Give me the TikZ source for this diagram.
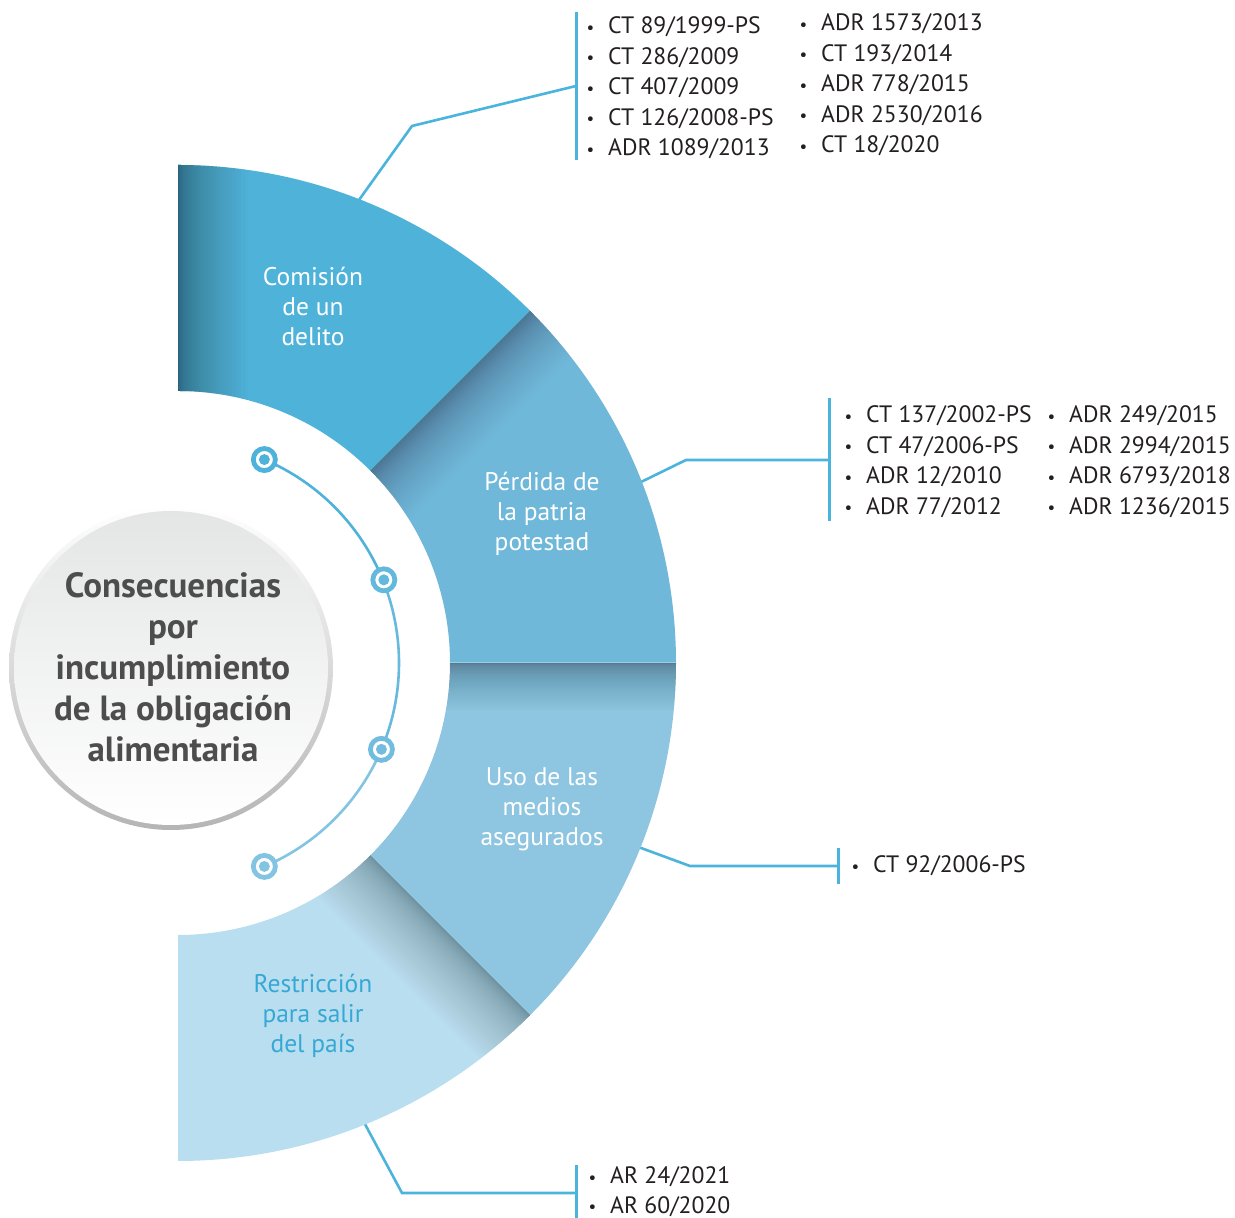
\documentclass[tikz,border=0pt]{standalone}
\usepackage{fontspec}
\setmainfont{PT Sans}
\definecolor{segA}{HTML}{4FB3D9}
\definecolor{segB}{HTML}{6FB8D9}
\definecolor{segC}{HTML}{8EC5E0}
\definecolor{segD}{HTML}{B8DEEF}
\definecolor{shadowc}{HTML}{1A2A32}
\definecolor{lineblue}{HTML}{4AB4DC}
\definecolor{txt}{HTML}{231F20}
\definecolor{titlegray}{HTML}{4D4D4D}
\definecolor{labD}{HTML}{37A8D5}
\definecolor{arcA}{HTML}{4EB2DA}
\definecolor{arcB}{HTML}{67B9DD}
\definecolor{arcC}{HTML}{82C4E2}
\definecolor{ringgray}{HTML}{B5B5B5}
\definecolor{fillgray}{HTML}{E4E5E5}
\newcommand\blt{\llap{{\fontsize{17}{17}\selectfont\raisebox{0.5pt}{•}}\hspace{14pt}}}
\begin{document}
\begin{tikzpicture}[x=1pt,y=1pt,
  conn/.style={draw=lineblue, line width=2.6pt, line join=miter},
  barline/.style={draw=lineblue, line width=3pt},
  item/.style={anchor=base west, inner sep=0pt, text=txt, font=\fontsize{23.7}{28}\selectfont},
  seglab/.style={align=center, text=white, inner sep=0pt, font=\fontsize{25.5}{30}\selectfont},
  marker/.style={circle, fill=white, line width=4.8pt, minimum size=22pt, inner sep=0pt}]
\useasboundingbox (0,0) rectangle (1235,1218);
\fill[white] (0,0) rectangle (1235,1218);

% ---------- connectors (behind segments) ----------
\begin{scope}[shift={(178,555)}]
  \coordinate (s1) at (68.8:492pt);
  \coordinate (s2) at (21.3:492pt);
  \coordinate (s3) at (-21.8:492pt);
  \coordinate (s4) at (-68:492pt);
\end{scope}
\coordinate (k1) at (412,1092); \coordinate (e1) at (576,1132);
\coordinate (k2) at (686,758);  \coordinate (e2) at (829,758);
\coordinate (k3) at (690,352);  \coordinate (e3) at (838,352);
\coordinate (k4) at (402,25);   \coordinate (e4) at (576,25);
\draw[conn] (s1) -- (k1) -- (e1);
\draw[conn] (s2) -- (k2) -- (e2);
\draw[conn] (s3) -- (k3) -- (e3);
\draw[conn] (s4) -- (k4) -- (e4);

\coordinate (b1t) at (576,1206); \coordinate (b1b) at (576,1058);
\coordinate (b2t) at (829,820);  \coordinate (b2b) at (829,697);
\coordinate (b3t) at (838,370);  \coordinate (b3b) at (838,334);
\coordinate (b4t) at (576,53);   \coordinate (b4b) at (576,-2);
\draw[barline] (b1t) -- (b1b);
\draw[barline] (b2t) -- (b2b);
\draw[barline] (b3t) -- (b3b);
\draw[barline] (b4t) -- (b4b);

% ---------- segments ----------
\begin{scope}[shift={(178,555)}]
  \fill[segA] (90:498pt) arc[start angle=90,end angle=45,radius=498pt] -- (45:272pt) arc[start angle=45,end angle=90,radius=272pt] -- cycle;
  \fill[segB] (45:498pt) arc[start angle=45,end angle=0,radius=498pt] -- (0:272pt) arc[start angle=0,end angle=45,radius=272pt] -- cycle;
  \fill[segC] (0:498pt) arc[start angle=0,end angle=-45,radius=498pt] -- (-45:272pt) arc[start angle=-45,end angle=0,radius=272pt] -- cycle;
  \fill[segD] (-45:498pt) arc[start angle=-45,end angle=-90,radius=498pt] -- (-90:272pt) arc[start angle=-90,end angle=-45,radius=272pt] -- cycle;
  % shadows (stacked translucent bands, denser near the edge)
  \begin{scope}
    \clip (90:498pt) arc[start angle=90,end angle=45,radius=498pt] -- (45:272pt) arc[start angle=45,end angle=90,radius=272pt] -- cycle;
    \foreach \k in {1,...,40} \fill[shadowc, opacity=0.015, rotate=90] (250,0) rectangle (520,{-70*(\k/40)^2});
  \end{scope}
  \begin{scope}
    \clip (45:498pt) arc[start angle=45,end angle=0,radius=498pt] -- (0:272pt) arc[start angle=0,end angle=45,radius=272pt] -- cycle;
    \foreach \k in {1,...,40} \fill[shadowc, opacity=0.013, rotate=45] (250,0) rectangle (520,{-62*(\k/40)^2});
  \end{scope}
  \begin{scope}
    \clip (0:498pt) arc[start angle=0,end angle=-45,radius=498pt] -- (-45:272pt) arc[start angle=-45,end angle=0,radius=272pt] -- cycle;
    \foreach \k in {1,...,40} \fill[shadowc, opacity=0.0125, rotate=0] (250,0) rectangle (520,{-48*(\k/40)^2});
  \end{scope}
  \begin{scope}
    \clip (-45:498pt) arc[start angle=-45,end angle=-90,radius=498pt] -- (-90:272pt) arc[start angle=-90,end angle=-45,radius=272pt] -- cycle;
    \foreach \k in {1,...,40} \fill[shadowc, opacity=0.0135, rotate=-45] (250,0) rectangle (520,{-66*(\k/40)^2});
  \end{scope}
  \draw[white, opacity=0.3, line width=1pt] (0:272pt) -- (0:498pt);

  % inner arc with markers
  \draw[arcA, line width=2.6pt] (67:221pt) arc[start angle=67,end angle=22,radius=221pt];
  \draw[arcB, line width=2.6pt] (22:221pt) arc[start angle=22,end angle=-23,radius=221pt];
  \draw[arcC, line width=2.6pt] (-23:221pt) arc[start angle=-23,end angle=-67,radius=221pt];
  \node[marker, draw=arcA] (m1) at (67:221pt) {};
  \node[marker, draw=arcB!85!arcA] (m2) at (22:222pt) {};
  \node[marker, draw=arcB!60!arcC] (m3) at (-23:221pt) {};
  \node[marker, draw=arcC] (m4) at (-67:221pt) {};
\end{scope}
\fill[arcA] (m1) circle[radius=5.5pt];
\fill[arcB!85!arcA] (m2) circle[radius=5.5pt];
\fill[arcB!60!arcC] (m3) circle[radius=5.5pt];
\fill[arcC] (m4) circle[radius=5.5pt];

% ---------- central circle ----------
\shade[shading angle=-45, top color=white, bottom color=ringgray] (171,550) circle[radius=162pt];
\shade[shading angle=-45, top color=fillgray, bottom color=white] (171,550) circle[radius=157pt];
\node[align=center, inner sep=0pt, text=titlegray, font=\bfseries\fontsize{35}{41}\selectfont] (title) at (173,551)
  {Consecuencias\\por\\incumplimiento\\de la obligación\\alimentaria};

% ---------- segment labels ----------
\node[seglab] (lab1) at (313,912) {Comisión\\de un\\delito};
\node[seglab] (lab2) at (542,704) {Pérdida de\\la patria\\potestad};
\node[seglab] (lab3) at (542,409) {Uso de las\\medios\\asegurados};
\node[seglab, text=labD] (lab4) at (313,202) {Restricción\\para salir\\del país};

% ---------- lists ----------
\foreach \t [count=\i] in {CT 89/1999-PS, CT 286/2009, CT 407/2009, CT 126/2008-PS, ADR 1089/2013}
  \node[item] (la\i) at (608,{1184-(\i-1)*30.5}) {\blt\t};
\foreach \t [count=\i] in {ADR 1573/2013, CT 193/2014, ADR 778/2015, ADR 2530/2016, CT 18/2020}
  \node[item] (lb\i) at (821,{1187-(\i-1)*30.5}) {\blt\t};
\foreach \t [count=\i] in {CT 137/2002-PS, CT 47/2006-PS, ADR 12/2010, ADR 77/2012}
  \node[item] (lc\i) at (866,{795-(\i-1)*30.4}) {\blt\t};
\foreach \t [count=\i] in {ADR 249/2015, ADR 2994/2015, ADR 6793/2018, ADR 1236/2015}
  \node[item] (ld\i) at (1069,{795-(\i-1)*30.4}) {\blt\t};
\node[item] (le1) at (873,345) {\blt CT 92/2006-PS};
\node[item] (lf1) at (610,34) {\blt AR 24/2021};
\node[item] (lf2) at (610,4.5) {\blt AR 60/2020};
\end{tikzpicture}
\end{document}
